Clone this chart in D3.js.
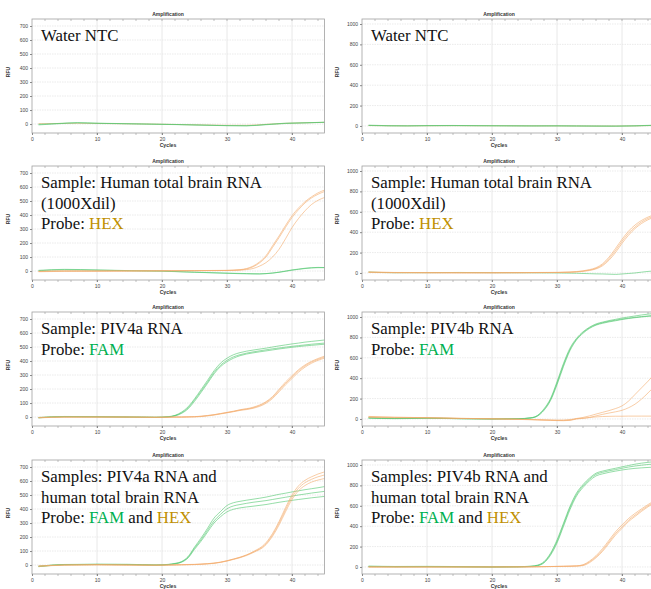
<!DOCTYPE html>
<html>
<head>
<meta charset="utf-8">
<script src="https://cdn.jsdelivr.net/npm/d3@7"></script>
<style>
  body { margin: 0; background: #fff; }
  svg { display: block; }
</style>
</head>
<body>
<div id="vis"></div>
<script>
// ---- data ----
const cyclesNTC = [1, 4, 7, 10, 14, 18, 22, 26, 30, 33, 36, 39, 42, 45];
const cyclesBrain = [1, 5, 10, 15, 20, 25, 30, 32, 33, 34, 35, 36, 37, 38, 39, 40, 41, 42, 43, 44, 45];
const cyclesA = [1, 5, 10, 15, 19, 21, 22, 23, 24, 25, 26, 27, 28, 29, 30, 31, 32, 34, 36, 37, 38, 39, 40, 41, 42, 43, 44, 45];
const cyclesB = [1, 5, 10, 15, 20, 24, 26, 27, 28, 29, 30, 31, 32, 33, 34, 35, 36, 37, 38, 39, 40, 41, 42, 43, 44, 45];

const ntcLeftFAM = [
  [-6, 2, 8, 5, 2, -1, -4, -8, -12, -13, -5, 4, 8, 12],
  [-2, 4, 10, 6, 3, 0, -3, -7, -11, -12, -3, 6, 9, 13]
];
const ntcLeftHEX = [
  [3, 4, 5, 4, 2, 0, -3, -6, -9, -9, -2, 5, 9, 12]
];
const ntcRightFAM = [
  [8, 3, 2, 4, 5, 3, 2, 1, 2, 1, 0, -1, 2, 8],
  [5, 1, 0, 2, 3, 2, 1, 0, 0, -1, -2, -2, 0, 6]
];
const ntcRightHEX = [
  [4, 2, 1, 2, 3, 2, 2, 1, 1, 0, -1, -1, 1, 5]
];

const brainLeftHEX = [
  [-3, 0, 0, 1, 2, 3, 5, 10, 18, 35, 65, 110, 180, 250, 325, 395, 450, 495, 530, 558, 578],
  [-5, -2, -1, 0, 1, 2, 4, 8, 15, 30, 58, 100, 168, 238, 312, 382, 438, 486, 522, 548, 568],
  [-2, 1, 0, 1, 2, 3, 4, 6, 10, 18, 35, 60, 100, 155, 230, 310, 375, 430, 475, 505, 525]
];
const brainLeftFAM = [
  [5, 12, 8, 3, 0, -8, -15, -17, -18, -19, -20, -18, -14, -8, 0, 8, 14, 20, 24, 26, 25],
  [2, 9, 6, 2, -1, -9, -16, -19, -20, -21, -21, -19, -15, -9, -2, 6, 12, 18, 22, 24, 24]
];
const brainRightHEX = [
  [8, 4, 3, 2, 2, 3, 5, 8, 12, 18, 28, 45, 80, 140, 220, 310, 390, 450, 500, 535, 560],
  [5, 2, 1, 1, 1, 2, 4, 7, 10, 15, 24, 40, 70, 125, 200, 290, 370, 435, 485, 522, 548],
  [10, 5, 4, 3, 3, 4, 6, 9, 14, 21, 33, 52, 90, 155, 240, 330, 410, 470, 515, 548, 572]
];
const brainRightFAM = [
  [10, 2, 3, 5, 3, 2, 0, -2, -3, -5, -7, -9, -10, -12, -14, -10, -5, 0, 8, 15, 20]
];

const piv4aFAM = [
  [-5, 3, 2, 0, -2, 3, 12, 35, 72, 130, 195, 262, 330, 385, 420, 445, 460, 478, 492, 500, 508, 515, 522, 528, 535, 540, 545, 550],
  [-3, 4, 3, 1, -1, 2, 10, 30, 65, 122, 185, 250, 318, 370, 405, 430, 445, 465, 480, 487, 493, 499, 505, 510, 515, 520, 524, 528],
  [-6, 2, 1, -1, -3, 1, 8, 26, 58, 112, 175, 240, 308, 360, 395, 420, 438, 458, 472, 479, 486, 492, 498, 503, 508, 512, 516, 520]
];
const piv4aHEX = [
  [-4, 0, 0, 0, -2, -1, 0, 0, 1, 2, 5, 10, 16, 24, 32, 40, 50, 66, 105, 140, 190, 240, 285, 330, 365, 392, 412, 428],
  [-6, -1, -1, -1, -3, -2, -1, -1, 0, 1, 3, 8, 14, 22, 30, 38, 47, 62, 98, 132, 180, 230, 275, 320, 356, 384, 405, 420],
  [-3, 1, 1, 0, -1, 0, 1, 1, 2, 3, 6, 11, 17, 25, 33, 42, 52, 70, 110, 146, 198, 250, 295, 338, 372, 398, 418, 435]
];

const piv4bFAM = [
  [10, 5, 8, 3, 0, 2, 12, 35, 100, 200, 365, 545, 695, 790, 855, 900, 932, 950, 965, 977, 990, 1000, 1010, 1020, 1028, 1035],
  [8, 3, 6, 2, -1, 1, 9, 28, 85, 180, 335, 515, 670, 775, 840, 888, 920, 938, 952, 963, 975, 985, 993, 1000, 1007, 1012],
  [12, 6, 9, 4, 1, 3, 11, 32, 92, 190, 350, 530, 682, 782, 848, 894, 925, 944, 958, 969, 980, 989, 997, 1004, 1010, 1015]
];
const piv4bHEX = [
  [22, 15, 14, 6, 2, -3, -6, -8, -10, -12, -14, -15, -12, 5, 15, 30, 48, 65, 82, 102, 128, 175, 240, 305, 370, 440],
  [15, 12, 10, 5, 0, -4, -8, -10, -12, -14, -16, -17, -14, 0, 5, 15, 30, 45, 58, 70, 85, 110, 145, 195, 255, 320],
  [25, 18, 12, 6, 2, -2, -5, -7, -9, -10, -11, -10, -5, 2, 8, 14, 20, 24, 26, 27, 27, 28, 28, 28, 28, 28]
];

const mixAFAM = [
  [-10, 3, 5, 4, 0, 5, 12, 25, 60, 128, 192, 262, 335, 382, 425, 445, 455, 470, 485, 495, 505, 513, 522, 530, 538, 545, 552, 560],
  [-8, 4, 6, 5, 1, 4, 10, 22, 55, 120, 180, 248, 315, 362, 402, 422, 432, 448, 460, 468, 476, 484, 492, 500, 507, 514, 520, 526],
  [-12, 2, 4, 3, -1, 3, 8, 20, 50, 112, 170, 235, 300, 345, 380, 398, 408, 420, 432, 440, 448, 455, 462, 468, 474, 480, 485, 490]
];
const mixAHEX = [
  [-8, 0, 2, 0, -1, 0, 1, 2, 3, 4, 6, 9, 13, 20, 30, 42, 55, 95, 160, 225, 310, 410, 500, 565, 605, 630, 650, 665],
  [-6, 1, 3, 1, 0, 1, 2, 3, 4, 5, 7, 10, 14, 21, 31, 43, 56, 92, 152, 215, 298, 395, 485, 548, 588, 612, 630, 643],
  [-10, -1, 1, -1, -2, -1, 0, 1, 2, 3, 5, 8, 12, 19, 28, 40, 52, 88, 145, 205, 285, 380, 468, 530, 568, 592, 607, 618]
];

const mixBFAM = [
  [8, 5, 6, 4, 2, 3, 8, 18, 52, 135, 265, 430, 595, 725, 808, 872, 920, 940, 955, 968, 982, 995, 1008, 1018, 1026, 1033],
  [6, 3, 4, 2, 0, 2, 6, 15, 46, 125, 250, 415, 580, 710, 795, 860, 908, 928, 943, 955, 968, 980, 990, 998, 1005, 1010],
  [4, 2, 3, 1, -1, 1, 5, 12, 40, 115, 235, 398, 562, 695, 780, 845, 893, 913, 928, 940, 951, 960, 967, 972, 976, 980]
];
const mixBHEX = [
  [0, 0, 0, 0, 0, 1, 2, 3, 4, 5, 6, 7, 8, 10, 18, 50, 100, 165, 246, 328, 393, 459, 508, 557, 600, 640],
  [1, 0, 0, 0, 0, 1, 1, 2, 3, 4, 5, 6, 7, 8, 14, 42, 90, 152, 232, 312, 378, 445, 495, 545, 590, 630],
  [-1, 0, 0, 0, 0, 0, 1, 2, 3, 4, 5, 6, 8, 11, 22, 58, 110, 180, 262, 345, 412, 475, 525, 570, 612, 650]
];

const yTicksLeft = [0, 100, 200, 300, 400, 500, 600, 700];
const yTicksRight = [0, 200, 400, 600, 800, 1000];
const xTicks = [0, 10, 20, 30, 40];

const labelNTC = ["Water NTC"];
const labelBrain = ["Sample: Human total brain RNA", "(1000Xdil)", "Probe: HEX"];
const labelPIV4a = ["Sample: PIV4a RNA", "Probe: FAM"];
const labelPIV4b = ["Sample: PIV4b RNA", "Probe: FAM"];
const labelMixA = ["Samples: PIV4a RNA and", "human total brain RNA", "Probe: FAM and HEX"];
const labelMixB = ["Samples: PIV4b RNA and", "human total brain RNA", "Probe: FAM and HEX"];

// ---- layout ----
const width = 651, height = 589;
const rowTops = [14, 161, 307, 455];
const colLeft = [32, 362];
const colTitleX = [168, 499];
const colRfuX = [10, 339];
const pxPerCycle = 6.5;

const famColor = "#4cc46a";
const hexColor = "#f3a968";
const famText = "#00b050";
const hexText = "#bf9000";

const panels = [
  { row: 0, col: 0, cycles: cyclesNTC, fam: ntcLeftFAM, hex: ntcLeftHEX, label: labelNTC, big: false, hexFirst: true },
  { row: 0, col: 1, cycles: cyclesNTC, fam: ntcRightFAM, hex: ntcRightHEX, label: labelNTC, big: true, hexFirst: true },
  { row: 1, col: 0, cycles: cyclesBrain, fam: brainLeftFAM, hex: brainLeftHEX, label: labelBrain, big: false, hexFirst: false },
  { row: 1, col: 1, cycles: cyclesBrain, fam: brainRightFAM, hex: brainRightHEX, label: labelBrain, big: true, hexFirst: false },
  { row: 2, col: 0, cycles: cyclesA, fam: piv4aFAM, hex: piv4aHEX, label: labelPIV4a, big: false, hexFirst: false },
  { row: 2, col: 1, cycles: cyclesB, fam: piv4bFAM, hex: piv4bHEX, label: labelPIV4b, big: true, hexFirst: false },
  { row: 3, col: 0, cycles: cyclesA, fam: mixAFAM, hex: mixAHEX, label: labelMixA, big: false, hexFirst: false },
  { row: 3, col: 1, cycles: cyclesB, fam: mixBFAM, hex: mixBHEX, label: labelMixB, big: true, hexFirst: false }
];

const svg = d3.select("#vis").append("svg")
  .attr("width", width)
  .attr("height", height)
  .style("font-family", "'Liberation Sans', Arial, sans-serif");

function drawPanel(p) {
  const T = rowTops[p.row];
  const L = colLeft[p.col];
  const top = T + 5, bottom = T + 119;
  const x = d3.scaleLinear().domain([0, 45]).range([L, L + 45 * pxPerCycle]);
  const y = d3.scaleLinear()
    .domain(p.big ? [-69, 1049] : [-64, 750])
    .range([bottom, top]);
  const yTicks = p.big ? yTicksRight : yTicksLeft;
  const g = svg.append("g");

  // grid
  g.append("g").selectAll("line").data(xTicks.slice(1))
    .join("line")
    .attr("x1", d => x(d)).attr("x2", d => x(d))
    .attr("y1", top).attr("y2", bottom)
    .attr("stroke", "#e2e2e2").attr("stroke-width", 0.8);
  g.append("g").selectAll("line").data(yTicks)
    .join("line")
    .attr("x1", L).attr("x2", x(45))
    .attr("y1", d => y(d)).attr("y2", d => y(d))
    .attr("stroke", "#e6e6e6").attr("stroke-width", 0.8)
    .attr("stroke-dasharray", "1.5,1");

  // minor ticks along the top and bottom edges
  const minor = d3.range(2, 45, 2);
  g.append("g").selectAll("line").data(minor).join("line")
    .attr("x1", d => x(d)).attr("x2", d => x(d))
    .attr("y1", top).attr("y2", top + 2)
    .attr("stroke", "#999").attr("stroke-width", 0.6);
  g.append("g").selectAll("line").data(minor).join("line")
    .attr("x1", d => x(d)).attr("x2", d => x(d))
    .attr("y1", bottom).attr("y2", bottom + 2)
    .attr("stroke", "#999").attr("stroke-width", 0.6);

  // curves
  const line = d3.line()
    .x((d, i) => x(p.cycles[i]))
    .y(d => y(d))
    .curve(d3.curveMonotoneX);
  const famSeries = p.fam.map(v => ({ v, c: famColor }));
  const hexSeries = p.hex.map(v => ({ v, c: hexColor }));
  const series = p.hexFirst ? hexSeries.concat(famSeries) : famSeries.concat(hexSeries);
  g.append("g").selectAll("path").data(series).join("path")
    .attr("fill", "none")
    .attr("stroke", d => d.c)
    .attr("stroke-width", 0.9)
    .attr("stroke-opacity", 0.65)
    .attr("d", d => line(d.v));

  // frame
  g.append("rect")
    .attr("x", L).attr("y", top)
    .attr("width", x(45) - L).attr("height", bottom - top)
    .attr("fill", "none").attr("stroke", "#a0a0a0").attr("stroke-width", 0.8);

  // axes
  const yAxis = g.append("g")
    .attr("transform", `translate(${L},0)`)
    .call(d3.axisLeft(y).tickValues(yTicks).tickFormat(d3.format("d")).tickSize(2).tickPadding(2));
  const xAxis = g.append("g")
    .attr("transform", `translate(0,${bottom})`)
    .call(d3.axisBottom(x).tickValues(xTicks).tickSize(2).tickPadding(2));
  [yAxis, xAxis].forEach(a => {
    a.select(".domain").remove();
    a.selectAll(".tick line").attr("stroke", "#888");
    a.selectAll(".tick text")
      .attr("font-size", 5)
      .attr("font-family", "'Liberation Sans', Arial, sans-serif")
      .attr("fill", "#444");
  });

  // titles
  g.append("text")
    .attr("x", colTitleX[p.col]).attr("y", T + 1.5)
    .attr("text-anchor", "middle")
    .attr("font-size", 5).attr("font-weight", "bold").attr("fill", "#333")
    .text("Amplification");
  g.append("text")
    .attr("x", colTitleX[p.col]).attr("y", T + 133)
    .attr("text-anchor", "middle")
    .attr("font-size", 5.2).attr("font-weight", "bold").attr("fill", "#333")
    .text("Cycles");
  g.append("text")
    .attr("transform", `translate(${colRfuX[p.col]},${T + 58}) rotate(-90)`)
    .attr("text-anchor", "middle")
    .attr("font-size", 5).attr("font-weight", "bold").attr("fill", "#333")
    .text("RFU");

  // annotation
  const txt = g.append("text")
    .attr("x", L + 9)
    .attr("y", T + 27)
    .attr("font-family", "'Liberation Serif', 'Times New Roman', serif")
    .attr("font-size", 16.8)
    .attr("fill", "#111");
  p.label.forEach((ln, li) => {
    const parts = ln.split(/(FAM|HEX)/).filter(s => s.length);
    parts.forEach((s, si) => {
      const ts = txt.append("tspan").text(s);
      if (si === 0) ts.attr("x", L + 9).attr("y", T + 27 + li * 20.5);
      if (s === "FAM") ts.attr("fill", famText);
      if (s === "HEX") ts.attr("fill", hexText);
    });
  });
}

panels.forEach(drawPanel);
</script>
</body>
</html>
